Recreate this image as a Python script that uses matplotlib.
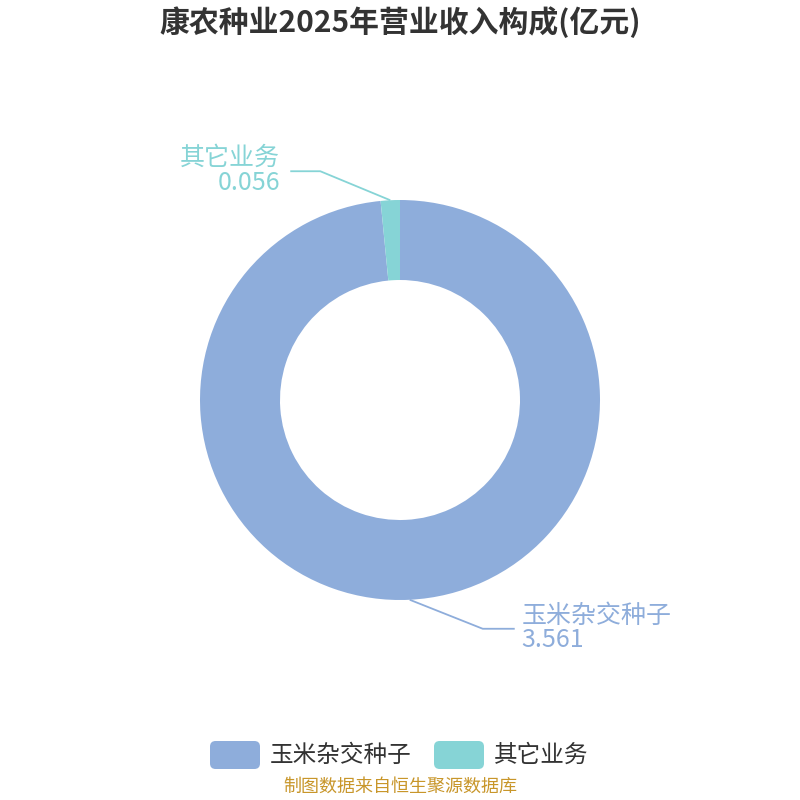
import numpy as np
import matplotlib
matplotlib.use("Agg")
import matplotlib.pyplot as plt
from matplotlib.patches import FancyBboxPatch

plt.rcParams['font.family'] = ['Noto Sans CJK SC', 'DejaVu Sans']

categories = ["玉米杂交种子", "其它业务"]
values = [3.561, 0.056]
colors = ["#8eaddb", "#86d4d6"]
title = "康农种业2025年营业收入构成(亿元)"
source = "制图数据来自恒生聚源数据库"

W = H = 800
fig = plt.figure(figsize=(8, 8), dpi=100)
ax = fig.add_axes([0, 0, 1, 1])

wedges, _ = ax.pie(values, colors=colors, startangle=90, counterclock=False,
                   radius=1.0, wedgeprops=dict(width=0.4, linewidth=0),
                   center=(0, 0))
ax.set_xlim(-2, 2)
ax.set_ylim(-2, 2)
ax.set_aspect('equal')
ax.axis('off')

# labels with leader lines
for w, cat, val, col in zip(wedges, categories, values, colors):
    mid = np.deg2rad((w.theta1 + w.theta2) / 2)
    x0, y0 = np.cos(mid), np.sin(mid)
    p0 = (x0, y0)
    side = 1 if x0 > 0 else -1
    if side > 0:
        p1 = (p0[0] + 0.365, p0[1] - 0.145)
        p2 = (p1[0] + 0.16, p1[1])
        tx = p2[0] + 0.035
        ha = 'left'
    else:
        p1 = (p0[0] - 0.35, p0[1] + 0.145)
        p2 = (p1[0] - 0.15, p1[1])
        tx = p2[0] - 0.05
        ha = 'right'
    ax.plot([p0[0], p1[0], p2[0]], [p0[1], p1[1], p2[1]], color=col, lw=1.3,
            solid_capstyle='butt')
    ax.text(tx, p2[1] + 0.065, cat, ha=ha, va='center', fontsize=18, color=col)
    ax.text(tx, p2[1] - 0.058, f"{val:.3f}", ha=ha, va='center', fontsize=18, color=col)

# title
fig.text(0.5, 1 - 22 / H, title, ha='center', va='center', fontsize=21.5,
         fontweight='bold', color='#333333')

# legend
def px(x, y):
    return x / W, 1 - y / H

legend_items = [(210, categories[0], colors[0]), (434, categories[1], colors[1])]
for x, lab, col in legend_items:
    bx, by = px(x, 769)
    box = FancyBboxPatch((bx, by), 50 / W, 28 / H,
                         boxstyle="round,pad=0,rounding_size=0.007",
                         transform=fig.transFigure, facecolor=col, edgecolor='none')
    fig.patches.append(box)
    tx, ty = px(x + 60, 755)
    fig.text(tx, ty, lab, ha='left', va='center', fontsize=17, color='#333333')

sx, sy = px(400, 787)
fig.text(sx, sy, source, ha='center', va='center', fontsize=13, color='#c8962a')

fig.savefig("out.png", dpi=100, facecolor='white')
